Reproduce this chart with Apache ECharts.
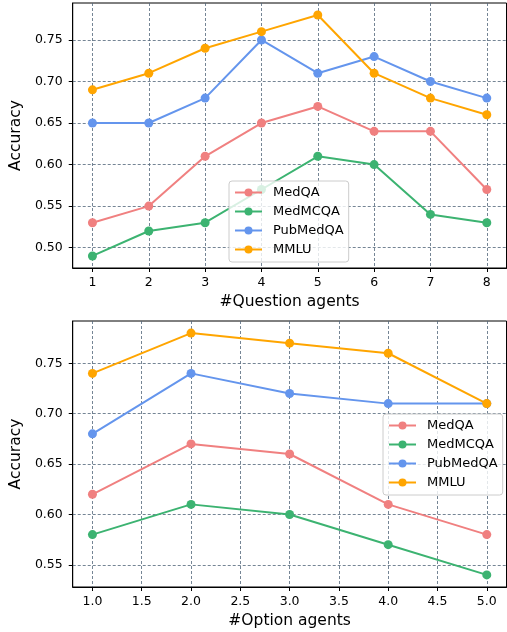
<!DOCTYPE html>
<html>
<head>
<meta charset="utf-8">
<script src="https://cdn.jsdelivr.net/npm/echarts@6/dist/echarts.min.js"></script>
<style>html,body{margin:0;padding:0;background:#fff;}#c{width:507px;height:632px;}</style>
</head>
<body>
<div id="c"></div>
<script>
// Top chart: #Question agents
const qAgents = [1, 2, 3, 4, 5, 6, 7, 8];
const qMedQA = [0.53, 0.55, 0.61, 0.65, 0.67, 0.64, 0.64, 0.57];
const qMedMCQA = [0.49, 0.52, 0.53, 0.57, 0.61, 0.60, 0.54, 0.53];
const qPubMedQA = [0.65, 0.65, 0.68, 0.75, 0.71, 0.73, 0.70, 0.68];
const qMMLU = [0.69, 0.71, 0.74, 0.76, 0.78, 0.71, 0.68, 0.66];
const qXTicks = [1, 2, 3, 4, 5, 6, 7, 8];
const qYTicks = [0.50, 0.55, 0.60, 0.65, 0.70, 0.75];

// Bottom chart: #Option agents
const oAgents = [1, 2, 3, 4, 5];
const oMedQA = [0.62, 0.67, 0.66, 0.61, 0.58];
const oMedMCQA = [0.58, 0.61, 0.60, 0.57, 0.54];
const oPubMedQA = [0.68, 0.74, 0.72, 0.71, 0.71];
const oMMLU = [0.74, 0.78, 0.77, 0.76, 0.71];
const oXTicks = [1.0, 1.5, 2.0, 2.5, 3.0, 3.5, 4.0, 4.5, 5.0];
const oYTicks = [0.55, 0.60, 0.65, 0.70, 0.75];

const names = ['MedQA', 'MedMCQA', 'PubMedQA', 'MMLU'];
const colors = ['#F08080', '#3CB371', '#6495ED', '#FFA500'];
const FONT = 'DejaVu Sans';

const chart = echarts.init(document.getElementById('c'), null, {renderer: 'canvas'});

const gridLine = {show: true, lineStyle: {color: '#52667a', width: 0.8, type: [3, 2]}};

function xAxis(idx, min, max, ticks, name, fmt) {
  return {
    type: 'value', gridIndex: idx, min: min, max: max,
    name: name, nameLocation: 'middle', nameGap: 26,
    nameTextStyle: {fontFamily: FONT, fontSize: 15.5, color: '#000'},
    axisLine: {show: true, onZero: false, lineStyle: {color: '#000', width: 1}},
    axisTick: {show: true, length: 4, inside: false, customValues: ticks, lineStyle: {color: '#000'}},
    axisLabel: {customValues: ticks, fontFamily: FONT, fontSize: 12.5, color: '#000', margin: 8, formatter: fmt},
    splitLine: gridLine
  };
}
function yAxis(idx, min, max, ticks) {
  return {
    type: 'value', gridIndex: idx, min: min, max: max,
    name: 'Accuracy', nameLocation: 'middle', nameGap: 46, nameRotate: 90,
    nameTextStyle: {fontFamily: FONT, fontSize: 15.5, color: '#000'},
    axisLine: {show: true, onZero: false, lineStyle: {color: '#000', width: 1}},
    axisTick: {show: true, length: 4, inside: false, customValues: ticks, lineStyle: {color: '#000'}},
    axisLabel: {customValues: ticks, fontFamily: FONT, fontSize: 12.5, color: '#000', margin: 10,
      formatter: v => v.toFixed(2)},
    splitLine: gridLine
  };
}
function mk(xs, ys, i, gi) {
  return {
    name: names[i], type: 'line', xAxisIndex: gi, yAxisIndex: gi,
    data: xs.map((x, k) => [x, ys[k]]),
    symbol: 'circle', symbolSize: 9, showSymbol: true,
    lineStyle: {width: 2, color: colors[i]},
    itemStyle: {color: colors[i]},
    z: 2 + i, animation: false, emphasis: {disabled: true}
  };
}
const legendBase = {
  orient: 'vertical', itemWidth: 27, itemHeight: 10, itemGap: 4,
  backgroundColor: 'rgba(255,255,255,0.8)', borderColor: '#cccccc', borderWidth: 1, borderRadius: 3,
  padding: [4, 5, 5, 5],
  textStyle: {fontFamily: FONT, fontSize: 13, lineHeight: 15, color: '#000', padding: [0, 0, 0, 6]},
  data: names, z: 10
};

chart.setOption({
  animation: false,
  backgroundColor: '#fff',
  grid: [
    {left: 69, top: 3, width: 437.5, height: 265, containLabel: false, show: true, borderColor: '#000', borderWidth: 1, backgroundColor: 'transparent'},
    {left: 69, top: 321, width: 437.5, height: 266, containLabel: false, show: true, borderColor: '#000', borderWidth: 1, backgroundColor: 'transparent'}
  ],
  xAxis: [
    xAxis(0, 0.65, 8.35, qXTicks, '#Question agents', v => String(v)),
    xAxis(1, 0.8, 5.2, oXTicks, '#Option agents', v => v.toFixed(1))
  ],
  yAxis: [
    yAxis(0, 0.4755, 0.7945, qYTicks),
    yAxis(1, 0.528, 0.792, oYTicks)
  ],
  legend: [
    Object.assign({}, legendBase, {left: 229, top: 181}),
    Object.assign({}, legendBase, {left: 383, top: 414})
  ],
  series: [
    mk(qAgents, qMedQA, 0, 0), mk(qAgents, qMedMCQA, 1, 0), mk(qAgents, qPubMedQA, 2, 0), mk(qAgents, qMMLU, 3, 0),
    mk(oAgents, oMedQA, 0, 1), mk(oAgents, oMedMCQA, 1, 1), mk(oAgents, oPubMedQA, 2, 1), mk(oAgents, oMMLU, 3, 1)
  ]
});
</script>
</body>
</html>
